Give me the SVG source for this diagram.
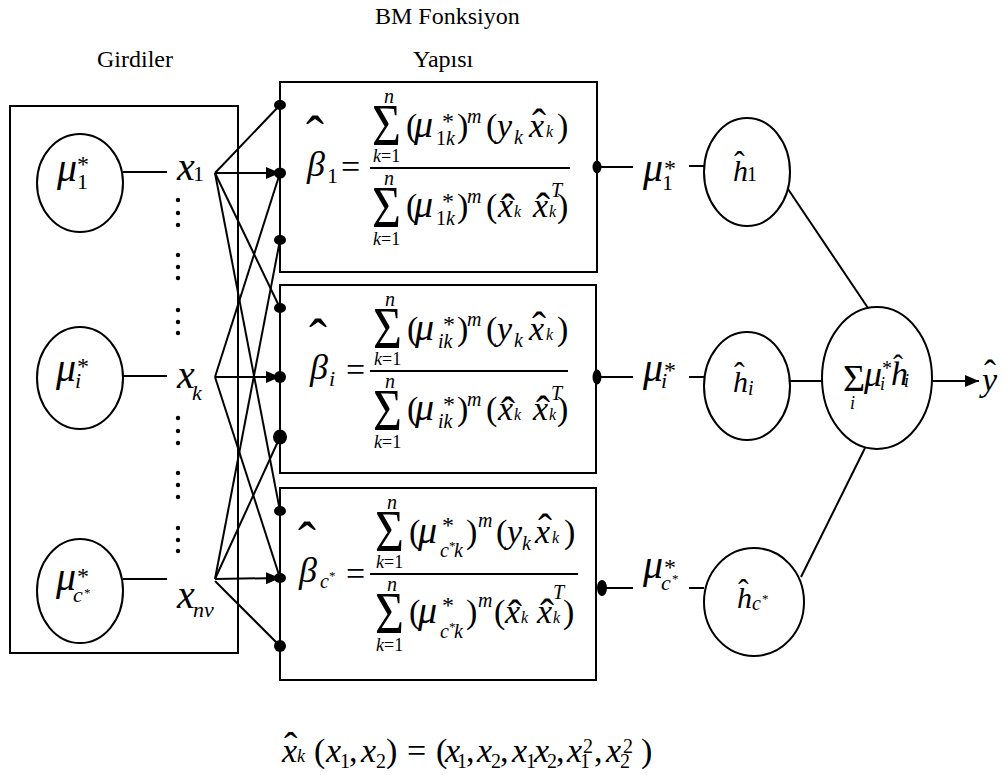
<svg xmlns="http://www.w3.org/2000/svg" width="1005" height="775" viewBox="0 0 1005 775" font-family="'Liberation Serif', 'Times New Roman', serif">
<style>
text{font-family:"Liberation Serif","Times New Roman",serif;fill:#000}
.i{font-style:italic}
.lbl{font-size:24px}
.big{font-size:40px}
.m{font-size:34px}
.mu{font-size:38px;font-style:italic}
.sub{font-size:22px}
.sm{font-size:20px}
.st{font-size:24px}
.xs{font-size:16px}
.tiny{font-size:13px}
.ln{stroke:#000;stroke-width:2;fill:none}
.box{fill:#fff;stroke:#000;stroke-width:2}
.node{fill:#fff;stroke:#000;stroke-width:2}
.dot{fill:#000}
</style>
<defs>
<marker id="ah" markerUnits="userSpaceOnUse" markerWidth="15" markerHeight="12" refX="14" refY="6" orient="auto">
<path d="M0,0 L14,6 L0,12 z" fill="#000"/>
</marker>
</defs>

<rect width="1005" height="775" fill="#fff"/>

<!-- column titles -->
<g id="titles">
<text class="lbl" x="97" y="67">Girdiler</text>
<text class="lbl" x="375" y="24">BM Fonksiyon</text>
<text class="lbl" x="413" y="67">Yapısı</text>
</g>

<!-- input panel -->
<g id="input-panel">
<rect x="10" y="106" width="228" height="547" fill="none" stroke="#000" stroke-width="2"/>
</g>

<g id="mu1">
<ellipse class="node" cx="80" cy="183" rx="43" ry="49"/>
<text class="mu" style="font-size:40px" x="57" y="181">μ</text>
<text class="st" x="77" y="172">*</text>
<text class="sub" x="77" y="189">1</text>
</g>
<g id="mui">
<ellipse class="node" cx="80" cy="378" rx="43" ry="51"/>
<text class="mu" style="font-size:40px" x="56" y="381">μ</text>
<text class="st" x="77" y="374">*</text>
<text class="sub i" x="75" y="388">i</text>
</g>
<g id="muc">
<ellipse class="node" cx="80" cy="591" rx="43" ry="52"/>
<text class="mu" style="font-size:40px" x="56" y="590">μ</text>
<text class="st" x="77" y="584">*</text>
<text class="sub i" x="73" y="602">c</text>
<text class="tiny" x="84" y="597">*</text>
</g>

<g id="x1">
<text class="big i" x="177" y="180">x</text>
<text class="sub" x="193" y="181">1</text>
</g>
<g id="xk">
<text class="big i" x="177" y="388">x</text>
<text class="sub i" x="192" y="400">k</text>
</g>
<g id="xnv">
<text class="big i" x="177" y="608">x</text>
<text class="sub i" x="193" y="617">nv</text>
</g>

<!-- vertical ellipsis marks between inputs -->
<g id="ellipsis-marks" fill="#000">
<circle cx="178" cy="200" r="2.2"/><circle cx="178" cy="213" r="2.2"/><circle cx="178" cy="225" r="2.2"/>
<circle cx="178" cy="255" r="2.2"/><circle cx="178" cy="267" r="2.2"/><circle cx="178" cy="278" r="2.2"/>
<circle cx="178" cy="310" r="2.2"/><circle cx="178" cy="322" r="2.2"/><circle cx="178" cy="333" r="2.2"/>
<circle cx="178" cy="418" r="2.2"/><circle cx="178" cy="431" r="2.2"/><circle cx="178" cy="443" r="2.2"/>
<circle cx="178" cy="473" r="2.2"/><circle cx="178" cy="485" r="2.2"/><circle cx="178" cy="497" r="2.2"/>
<circle cx="178" cy="528" r="2.2"/><circle cx="178" cy="540" r="2.2"/><circle cx="178" cy="551" r="2.2"/>
</g>

<!-- rule box 1 -->
<g id="beta1">
<rect class="box" x="280" y="82" width="317" height="190"/>
<text class="i" style="font-size:36px" x="307" y="176">β</text>
<text style="font-size:54px" x="306" y="154">ˆ</text>
<text class="sub" x="327" y="183">1</text>
<text class="m" x="341" y="178">=</text>
<line class="ln" x1="370" y1="168" x2="570" y2="168"/>
<text style="font-size:54px" transform="translate(372,145) scale(0.92,1.1)">Σ</text>
<text class="sm i" x="384" y="103">n</text>
<text style="font-size:18px" x="373" y="162"><tspan class="i">k</tspan>=1</text>
<text class="m" x="406" y="137">(</text>
<text class="mu" x="414" y="137">μ</text>
<text class="st" x="442" y="129">*</text>
<text class="sm" x="436" y="145">1<tspan class="i">k</tspan></text>
<text class="m" x="457" y="137">)</text>
<text class="sm i" x="467" y="123">m</text>
<text class="m" x="486" y="137">(</text>
<text class="m i" x="497" y="137">y</text>
<text class="sm i" x="514" y="144">k</text>
<text class="m i" x="529" y="137">x</text>
<text style="font-size:42px" x="532" y="138">ˆ</text>
<text class="xs i" x="546" y="137">k</text>
<text class="m" x="557" y="137">)</text>
<text style="font-size:54px" transform="translate(372,227) scale(0.92,1.1)">Σ</text>
<text class="sm i" x="384" y="185">n</text>
<text style="font-size:18px" x="373" y="245"><tspan class="i">k</tspan>=1</text>
<text class="m" x="406" y="217">(</text>
<text class="mu" x="414" y="217">μ</text>
<text class="st" x="442" y="209">*</text>
<text class="sm" x="436" y="225">1<tspan class="i">k</tspan></text>
<text class="m" x="457" y="217">)</text>
<text class="sm i" x="467" y="203">m</text>
<text class="m" x="486" y="217">(</text>
<text class="m i" x="498" y="217">x</text>
<text style="font-size:42px" x="501" y="223">ˆ</text>
<text class="xs i" x="514" y="217">k</text>
<text class="m i" x="533" y="217">x</text>
<text style="font-size:42px" x="536" y="222">ˆ</text>
<text class="sm i" x="551" y="197">T</text>
<text class="xs i" x="549" y="217">k</text>
<text class="m" x="557" y="217">)</text>
</g>

<!-- rule box i -->
<g id="betai">
<rect class="box" x="280" y="285" width="316" height="188"/>
<text class="i" style="font-size:36px" x="310" y="379">β</text>
<text style="font-size:54px" x="309" y="357">ˆ</text>
<text class="sub i" x="329" y="386">i</text>
<text class="m" x="346" y="381">=</text>
<line class="ln" x1="370" y1="371" x2="568" y2="371"/>
<text style="font-size:54px" transform="translate(373,348) scale(0.92,1.1)">Σ</text>
<text class="sm i" x="385" y="306">n</text>
<text style="font-size:18px" x="374" y="365"><tspan class="i">k</tspan>=1</text>
<text class="m" x="407" y="340">(</text>
<text class="mu" x="415" y="340">μ</text>
<text class="st" x="443" y="332">*</text>
<text class="sm i" x="438" y="348">ik</text>
<text class="m" x="457" y="340">)</text>
<text class="sm i" x="467" y="326">m</text>
<text class="m" x="486" y="340">(</text>
<text class="m i" x="497" y="340">y</text>
<text class="sm i" x="514" y="347">k</text>
<text class="m i" x="529" y="340">x</text>
<text style="font-size:42px" x="532" y="341">ˆ</text>
<text class="xs i" x="546" y="340">k</text>
<text class="m" x="557" y="340">)</text>
<text style="font-size:54px" transform="translate(373,430) scale(0.92,1.1)">Σ</text>
<text class="sm i" x="385" y="388">n</text>
<text style="font-size:18px" x="374" y="448"><tspan class="i">k</tspan>=1</text>
<text class="m" x="407" y="420">(</text>
<text class="mu" x="415" y="420">μ</text>
<text class="st" x="443" y="412">*</text>
<text class="sm i" x="438" y="428">ik</text>
<text class="m" x="457" y="420">)</text>
<text class="sm i" x="467" y="406">m</text>
<text class="m" x="486" y="420">(</text>
<text class="m i" x="498" y="420">x</text>
<text style="font-size:42px" x="501" y="426">ˆ</text>
<text class="xs i" x="514" y="420">k</text>
<text class="m i" x="533" y="420">x</text>
<text style="font-size:42px" x="536" y="425">ˆ</text>
<text class="sm i" x="551" y="400">T</text>
<text class="xs i" x="549" y="420">k</text>
<text class="m" x="557" y="420">)</text>
</g>

<!-- rule box c* -->
<g id="betac">
<rect class="box" x="280" y="488" width="316" height="192"/>
<text class="i" style="font-size:36px" x="299" y="582">β</text>
<text style="font-size:54px" x="298" y="560">ˆ</text>
<text class="sm i" x="320" y="588">c</text>
<text class="tiny" x="329" y="580">*</text>
<text class="m" x="346" y="585">=</text>
<line class="ln" x1="370" y1="574" x2="578" y2="574"/>
<text style="font-size:54px" transform="translate(375,551) scale(0.92,1.1)">Σ</text>
<text class="sm i" x="387" y="509">n</text>
<text style="font-size:18px" x="376" y="568"><tspan class="i">k</tspan>=1</text>
<text class="m" x="409" y="543">(</text>
<text class="mu" x="418" y="543">μ</text>
<text class="st" x="442" y="533">*</text>
<text class="sm i" x="440" y="557">c</text>
<text class="tiny" x="449" y="550">*</text>
<text class="sm i" x="454" y="557">k</text>
<text class="m" x="466" y="543">)</text>
<text class="sm i" x="478" y="527">m</text>
<text class="m" x="496" y="543">(</text>
<text class="m i" x="507" y="543">y</text>
<text class="sm i" x="522" y="550">k</text>
<text class="m i" x="535" y="543">x</text>
<text style="font-size:42px" x="538" y="543">ˆ</text>
<text class="xs i" x="552" y="543">k</text>
<text class="m" x="564" y="543">)</text>
<text style="font-size:54px" transform="translate(375,633) scale(0.92,1.1)">Σ</text>
<text class="sm i" x="387" y="591">n</text>
<text style="font-size:18px" x="376" y="651"><tspan class="i">k</tspan>=1</text>
<text class="m" x="409" y="623">(</text>
<text class="mu" x="418" y="623">μ</text>
<text class="st" x="442" y="613">*</text>
<text class="sm i" x="440" y="638">c</text>
<text class="tiny" x="449" y="631">*</text>
<text class="sm i" x="454" y="638">k</text>
<text class="m" x="466" y="623">)</text>
<text class="sm i" x="478" y="607">m</text>
<text class="m" x="494" y="623">(</text>
<text class="m i" x="505" y="623">x</text>
<text style="font-size:42px" x="508" y="629">ˆ</text>
<text class="xs i" x="521" y="623">k</text>
<text class="m i" x="537" y="623">x</text>
<text style="font-size:42px" x="540" y="628">ˆ</text>
<text class="sm i" x="553" y="599">T</text>
<text class="xs i" x="553" y="623">k</text>
<text class="m" x="563" y="623">)</text>
</g>

<!-- local model outputs -->
<g id="h1">
<ellipse class="node" cx="747" cy="172" rx="43" ry="54"/>
<text class="i" style="font-size:30px" x="733" y="181">h</text>
<text style="font-size:32px" x="734" y="173">ˆ</text>
<text class="sm" x="747" y="181">1</text>
</g>
<g id="hi">
<ellipse class="node" cx="747" cy="386" rx="43" ry="54"/>
<text class="i" style="font-size:30px" x="733" y="392">h</text>
<text style="font-size:32px" x="734" y="384">ˆ</text>
<text class="sm i" x="748" y="395">i</text>
</g>
<g id="hc">
<ellipse class="node" cx="754" cy="602" rx="50" ry="54"/>
<text class="i" style="font-size:30px" x="737" y="608">h</text>
<text style="font-size:32px" x="738" y="601">ˆ</text>
<text class="sm i" x="752" y="610">c</text>
<text class="tiny" x="762" y="603">*</text>
</g>

<!-- membership weights on the outputs -->
<g id="w1">
<text class="mu" style="font-size:40px" x="643" y="181">μ</text>
<text class="st" x="664" y="176">*</text>
<text class="sub" x="662" y="190">1</text>
</g>
<g id="wi">
<text class="mu" style="font-size:40px" x="643" y="381">μ</text>
<text class="st" x="664" y="378">*</text>
<text class="sub i" x="661" y="388">i</text>
</g>
<g id="wc">
<text class="mu" style="font-size:40px" x="643" y="578">μ</text>
<text class="st" x="664" y="575">*</text>
<text class="sub i" x="661" y="590">c</text>
<text class="tiny" x="672" y="583">*</text>
</g>

<!-- weighted sum node -->
<g id="sum">
<ellipse class="node" cx="877" cy="378" rx="55" ry="71"/>
<text style="font-size:38px" x="843" y="391">Σ</text>
<text class="i" style="font-size:18px" x="850" y="409">i</text>
<text class="mu" style="font-size:36px" x="864" y="386">μ</text>
<text class="sm" x="882" y="375">*</text>
<text class="i" style="font-size:18px" x="880" y="390">i</text>
<text class="i" style="font-size:34px" x="891" y="385">h</text>
<text style="font-size:30px" x="893" y="375">ˆ</text>
<text class="i" style="font-size:18px" x="904" y="387">i</text>
</g>

<g id="yhat">
<text class="i" style="font-size:34px" x="982" y="391">y</text>
<text style="font-size:36px" x="984" y="385">ˆ</text>
</g>

<!-- regressor definition -->
<g id="regressor">
<text class="m" y="762"><tspan class="i" x="282">x</tspan><tspan class="i" x="297" style="font-size:18px">k</tspan><tspan x="314">(</tspan><tspan class="i" x="326">x</tspan><tspan x="340" y="768" style="font-size:20px">1</tspan><tspan x="349" y="762">,</tspan><tspan class="i" x="361">x</tspan><tspan x="376" y="768" style="font-size:20px">2</tspan><tspan x="386" y="762">)</tspan><tspan x="407">=</tspan><tspan x="436">(</tspan><tspan class="i" x="445">x</tspan><tspan x="457" y="768" style="font-size:20px">1</tspan><tspan x="466" y="762">,</tspan><tspan class="i" x="477">x</tspan><tspan x="491" y="768" style="font-size:20px">2</tspan><tspan x="500" y="762">,</tspan><tspan class="i" x="512">x</tspan><tspan x="526" y="768" style="font-size:20px">1</tspan><tspan class="i" x="534" y="762">x</tspan><tspan x="547" y="768" style="font-size:20px">2</tspan><tspan x="556" y="762">,</tspan><tspan class="i" x="567">x</tspan><tspan x="580" y="768" style="font-size:20px">1</tspan><tspan x="583" y="753" style="font-size:20px">2</tspan><tspan x="594" y="762">,</tspan><tspan class="i" x="606">x</tspan><tspan x="620" y="768" style="font-size:20px">2</tspan><tspan x="623" y="753" style="font-size:20px">2</tspan><tspan x="641" y="762">)</tspan></text>
<text style="font-size:40px" x="284" y="760">ˆ</text>
</g>

<!-- connectors -->
<g id="connectors" class="ln">
<!-- inputs to x labels -->
<line x1="123" y1="172" x2="167" y2="172"/>
<line x1="123" y1="376" x2="167" y2="376"/>
<line x1="123" y1="579" x2="167" y2="579"/>
<!-- x1 fan-out -->
<line x1="215" y1="173" x2="280" y2="105"/>
<line x1="215" y1="173" x2="280" y2="173" marker-end="url(#ah)"/>
<line x1="215" y1="173" x2="280" y2="308"/>
<line x1="215" y1="173" x2="280" y2="511"/>
<!-- xk fan-out -->
<line x1="215" y1="377" x2="280" y2="173"/>
<line x1="215" y1="377" x2="280" y2="377" marker-end="url(#ah)"/>
<line x1="215" y1="377" x2="280" y2="578"/>
<!-- xnv fan-out -->
<line x1="215" y1="579" x2="280" y2="240"/>
<line x1="215" y1="579" x2="280" y2="437"/>
<line x1="215" y1="579" x2="280" y2="578" marker-end="url(#ah)"/>
<line x1="215" y1="581" x2="280" y2="646"/>
<!-- rule outputs -->
<line x1="597" y1="167" x2="633" y2="167"/>
<line x1="689" y1="166" x2="704" y2="166"/>
<line x1="597" y1="377" x2="633" y2="377"/>
<line x1="689" y1="377" x2="704" y2="377"/>
<line x1="601" y1="588" x2="633" y2="588"/>
<line x1="689" y1="588" x2="704" y2="588"/>
<!-- to the sum -->
<line x1="788" y1="189" x2="868" y2="308"/>
<line x1="790" y1="381" x2="822" y2="381"/>
<line x1="801" y1="577" x2="865" y2="448"/>
<line x1="932" y1="381" x2="979" y2="381" marker-end="url(#ah)"/>
<!-- junction dots -->
<g class="dot" stroke="none">
<ellipse cx="280" cy="105" rx="6" ry="5"/>
<ellipse cx="280" cy="173" rx="6" ry="5.5"/>
<ellipse cx="280" cy="240" rx="6" ry="5"/>
<ellipse cx="280" cy="308" rx="6" ry="5"/>
<ellipse cx="280" cy="377" rx="6" ry="6"/>
<ellipse cx="280" cy="437" rx="7" ry="7.5"/>
<ellipse cx="280" cy="511" rx="6" ry="5"/>
<ellipse cx="280" cy="578" rx="6" ry="5"/>
<ellipse cx="280" cy="646" rx="6" ry="6"/>
<ellipse cx="597" cy="167" rx="4.5" ry="6.5"/>
<ellipse cx="597" cy="377" rx="4.5" ry="7.5"/>
<ellipse cx="602" cy="588" rx="5" ry="8"/>
</g>
</g>
</svg>
